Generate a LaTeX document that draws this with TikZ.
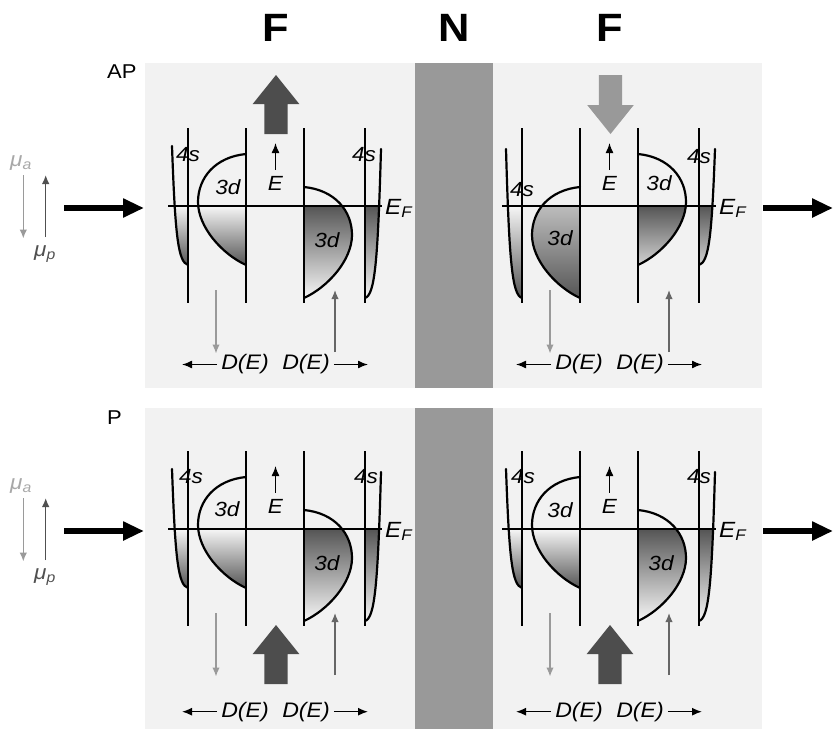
\documentclass[tikz,border=0pt]{standalone}
\usepackage{fontspec}
\setmainfont[FakeStretch=1.1]{Liberation Sans}
\usetikzlibrary{arrows.meta}

\definecolor{panelbg}{HTML}{F2F2F2}
\definecolor{spacer}{HTML}{999999}
\definecolor{fatdark}{HTML}{4D4D4D}
\definecolor{fatlight}{HTML}{999999}
\definecolor{arrlight}{HTML}{9A9A9A}
\definecolor{arrdark}{HTML}{666666}
\definecolor{mutext}{HTML}{A8A8A8}
\definecolor{mudark}{HTML}{505050}
\definecolor{shdark}{HTML}{555555}
\definecolor{shlight}{HTML}{F6F6F6}
\definecolor{shmidA}{HTML}{BDBDBD}
\definecolor{shmidB}{HTML}{D2D2D2}

\tikzset{
  band/.style={line width=2.2pt, line cap=round},
  axisline/.style={line width=1.5pt},
  lbl/.style={inner sep=0pt, font=\fontsize{20.5}{24}\selectfont\itshape},
  delbl/.style={inner sep=0pt, font=\fontsize{21}{25}\selectfont\itshape},
  eflbl/.style={inner sep=0pt, font=\fontsize{22}{26}\selectfont\itshape},
  tag/.style={inner sep=0pt, font=\fontsize{20}{24}\selectfont},
  title/.style={inner sep=0pt, font=\fontsize{39.5}{44}\selectfont\bfseries},
  blackarrow/.style={line width=1.4pt, -{Latex[length=10pt,width=8pt]}},
  grayarrow/.style={line width=1.4pt, -{Latex[length=9pt,width=7.5pt]}},
  bigarrow/.style={line width=6.5pt, -{Triangle[length=21pt,width=18pt]}},
  % d band: lobe opening towards negative x, #1 = vertical offset
  pics/dlobe/.style n args={3}{code={
    \begin{scope}
      \clip (0,{-52+#1}) .. controls (-31,{-49+#1}) and (-48,{-28+#1}) .. (-48,{-4+#1})
            .. controls (-48,{21+#1}) and (-24,{48+#1}) .. (0,{59+#1}) -- cycle;
      \shade[top color=#2, bottom color=#3] (-52,0) rectangle (0,{59+#1});
    \end{scope}
    \draw[band] (0,{-52+#1}) .. controls (-31,{-49+#1}) and (-48,{-28+#1}) .. (-48,{-4+#1})
            .. controls (-48,{21+#1}) and (-24,{48+#1}) .. (0,{59+#1});
  }},
  % s band: #1 = top end, #2 = band bottom
  pics/sband/.style n args={4}{code={
    \begin{scope}
      \clip (-16,#1) .. controls (-12.8,{#1+0.75*(#2-(#1))}) and (-10,{#2-3}) .. (0,#2) -- (0,#1) -- cycle;
      \shade[top color=#3, bottom color=#4] (-18,0) rectangle (0,#2);
    \end{scope}
    \draw[band] (-16,#1) .. controls (-12.8,{#1+0.75*(#2-(#1))}) and (-10,{#2-3}) .. (0,#2);
  }},
  pics/fatarrow/.style={code={
    \fill (0,0) -- (23.3,29) -- (11.7,29) -- (11.7,59) -- (-11.7,59) -- (-11.7,29) -- (-23.3,29) -- cycle;
  }}
}

% axes, Fermi level, energy arrow and D(E) axes of one density-of-states panel
\newcommand\panelframe[2]{%
  \foreach \ax in {0,58,116,177} \draw[axisline] (\ax,-78) -- (\ax,97);
  \draw[axisline] (-20,0) -- (194,0);
  \node[eflbl, anchor=base west] (#1EF) at (197,8) {E\textsubscript{F}};
  \node[lbl] (#1E) at (87.5,-23) {E};
  \coordinate (#1Etop) at (87.5,-63);
  \draw[blackarrow] ([yshift=6pt]#1E.north) -- (#1Etop);
  \coordinate (#1ga) at (28,84);
  \coordinate (#1gb) at (28,147.5);
  \draw[grayarrow, arrlight] (#1ga) -- (#1gb);
  \coordinate (#1gc) at (147,146);
  \coordinate (#1gd) at (147,84);
  \draw[grayarrow, arrdark] (#1gc) -- (#1gd);
  \node[delbl] (#1DL) at (57,#2) {D(E)};
  \node[delbl] (#1DR) at (118,#2) {D(E)};
  \coordinate (#1DLend) at (-6,#2);
  \coordinate (#1DRend) at (180,#2);
  \draw[blackarrow] ([xshift=-4pt]#1DL.west) -- (#1DLend);
  \draw[blackarrow] ([xshift=4pt]#1DR.east) -- (#1DRend);
}

\begin{document}
\begin{tikzpicture}[x=1pt,y=-1pt]
\useasboundingbox (0,0) rectangle (833,731);

% layer backgrounds
\fill[panelbg] (145,63) rectangle (762,388);
\fill[panelbg] (145,408) rectangle (762,729);
\fill[spacer] (415,63) rectangle (493,388);
\fill[spacer] (415,408) rectangle (493,729);

% layer titles
\node[title] (ttlF1) at (276,28) {F};
\node[title] (ttlN) at (454,28) {N};
\node[title] (ttlF2) at (610,28) {F};
\node[tag, anchor=west] (tagAP) at (107,72) {AP};
\node[tag, anchor=west] (tagP) at (107,418) {P};

% chemical potentials and current, AP
\node[lbl, mutext] (muaA) at (21,163) {μ\textsubscript{a}};
\node[lbl, mudark] (mupA) at (45,254) {μ\textsubscript{p}};
\coordinate (muaAs) at (23.3,175);
\coordinate (muaAe) at (23.3,238.5);
\coordinate (mupAs) at (45.7,237);
\coordinate (mupAe) at (45.7,175);
\draw[grayarrow, arrlight] (muaAs) -- (muaAe);
\draw[grayarrow, mudark] (mupAs) -- (mupAe);
\coordinate (inAs) at (64,208);
\coordinate (inAe) at (144,208);
\draw[bigarrow] (inAs) -- (inAe);
\coordinate (outAs) at (763,208);
\coordinate (outAe) at (833,208);
\draw[bigarrow] (outAs) -- (outAe);

% chemical potentials and current, P
\node[lbl, mutext] (muaP) at (21,486) {μ\textsubscript{a}};
\node[lbl, mudark] (mupP) at (45,577) {μ\textsubscript{p}};
\coordinate (muaPs) at (23.3,498);
\coordinate (muaPe) at (23.3,561.5);
\coordinate (mupPs) at (45.7,560);
\coordinate (mupPe) at (45.7,498);
\draw[grayarrow, arrlight] (muaPs) -- (muaPe);
\draw[grayarrow, mudark] (mupPs) -- (mupPe);
\coordinate (inPs) at (64,531);
\coordinate (inPe) at (144,531);
\draw[bigarrow] (inPs) -- (inPe);
\coordinate (outPs) at (763,531);
\coordinate (outPe) at (833,531);
\draw[bigarrow] (outPs) -- (outPe);

% AP, left ferromagnet
\begin{scope}[shift={(188,206)}]
  \pic at (0,0) {sband={-60}{59}{shlight}{shdark}};
  \pic at (58,0) {dlobe={0}{shlight}{shdark}};
  \pic[xscale=-1] at (116,0) {dlobe={33}{shdark}{shlight}};
  \pic[xscale=-1] at (177,0) {sband={-57}{92}{shdark}{shlight}};
  \panelframe{tl}{158.5}
  \node[lbl] (tl4a) at (0,-51) {4s};
  \node[lbl] (tl3a) at (40,-19) {3d};
  \node[lbl] (tl3b) at (139,34) {3d};
  \node[lbl] (tl4b) at (176,-51) {4s};
  \pic[color=fatdark] at (88,-131) {fatarrow};
\end{scope}

% AP, right ferromagnet
\begin{scope}[shift={(522,206)}]
  \pic at (0,0) {sband={-57}{92}{shlight}{shdark}};
  \pic at (58,0) {dlobe={33}{shmidA}{shdark}};
  \pic[xscale=-1] at (116,0) {dlobe={0}{shdark}{shmidB}};
  \pic[xscale=-1] at (177,0) {sband={-57}{59}{shdark}{shmidB}};
  \panelframe{tr}{158.5}
  \node[lbl] (tr4a) at (0,-16) {4s};
  \node[lbl] (tr3a) at (38,32) {3d};
  \node[lbl] (tr3b) at (137,-23) {3d};
  \node[lbl] (tr4b) at (177,-49) {4s};
  \pic[color=fatlight, yscale=-1] at (88.5,-72) {fatarrow};
\end{scope}

% P, left ferromagnet
\begin{scope}[shift={(188,529)}]
  \pic at (0,0) {sband={-60}{59}{shlight}{shdark}};
  \pic at (58,0) {dlobe={0}{shlight}{shdark}};
  \pic[xscale=-1] at (116,0) {dlobe={33}{shdark}{shlight}};
  \pic[xscale=-1] at (177,0) {sband={-57}{92}{shdark}{shlight}};
  \panelframe{bl}{182.7}
  \node[lbl] (bl4a) at (3,-52) {4s};
  \node[lbl] (bl3a) at (39,-20) {3d};
  \node[lbl] (bl3b) at (139,34) {3d};
  \node[lbl] (bl4b) at (178,-52) {4s};
  \pic[color=fatdark] at (88,96) {fatarrow};
\end{scope}

% P, right ferromagnet
\begin{scope}[shift={(522,529)}]
  \pic at (0,0) {sband={-60}{59}{shlight}{shdark}};
  \pic at (58,0) {dlobe={0}{shlight}{shdark}};
  \pic[xscale=-1] at (116,0) {dlobe={33}{shdark}{shlight}};
  \pic[xscale=-1] at (177,0) {sband={-57}{92}{shdark}{shlight}};
  \panelframe{br}{182.7}
  \node[lbl] (br4a) at (1,-52) {4s};
  \node[lbl] (br3a) at (38,-19) {3d};
  \node[lbl] (br3b) at (139,34) {3d};
  \node[lbl] (br4b) at (177,-52) {4s};
  \pic[color=fatdark] at (88,96) {fatarrow};
\end{scope}

\end{tikzpicture}
\end{document}
